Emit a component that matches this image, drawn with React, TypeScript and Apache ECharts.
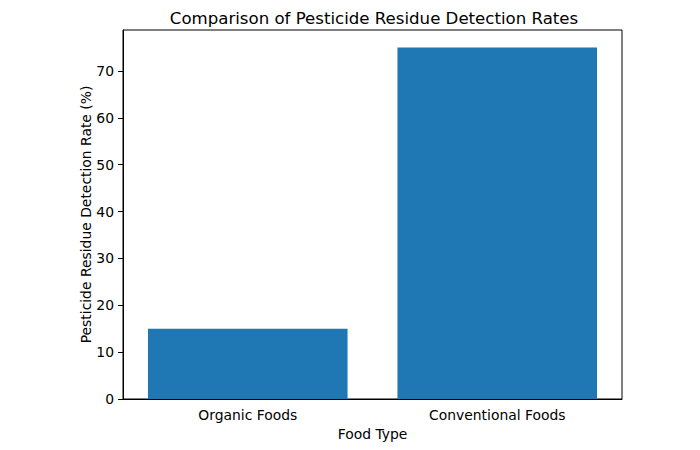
import React, { useEffect, useRef } from "react";
import * as echarts from "echarts";

const categories = ["Organic Foods", "Conventional Foods"];
const detectionRates = [15, 75];
const yMax = 78.75;

const FONT = "DejaVu Sans";

const App: React.FC = () => {
  const chartRef = useRef<HTMLDivElement>(null);

  useEffect(() => {
    if (!chartRef.current) return;
    const chart = echarts.init(chartRef.current, undefined, { renderer: "svg" });

    const option = {
      animation: false,
      backgroundColor: "#ffffff",
      textStyle: { fontFamily: FONT },
      title: {
        text: "Comparison of Pesticide Residue Detection Rates",
        left: 369,
        top: 5,
        textAlign: "center",
        textStyle: { fontFamily: FONT, fontSize: 16.6, fontWeight: "normal", color: "#000" },
      },
      grid: {
        left: 123,
        right: 78,
        top: 30,
        bottom: 51,
        show: true,
        borderColor: "#000",
        borderWidth: 1,
        backgroundColor: "transparent",
      },
      xAxis: {
        type: "category",
        data: categories,
        name: "Food Type",
        nameLocation: "middle",
        nameGap: 28,
        nameMoveOverlap: false,
        nameTextStyle: { fontFamily: FONT, fontSize: 13.9, color: "#000" },
        axisLine: { lineStyle: { color: "#000", width: 1 } },
        axisTick: { alignWithLabel: true, length: 5, lineStyle: { color: "#000" } },
        axisLabel: { fontFamily: FONT, fontSize: 13.9, color: "#000", margin: 9 },
      },
      yAxis: {
        type: "value",
        min: 0,
        max: yMax,
        interval: 10,
        name: "Pesticide Residue Detection Rate (%)",
        nameLocation: "middle",
        nameGap: 30,
        nameMoveOverlap: false,
        nameTextStyle: { fontFamily: FONT, fontSize: 13.9, color: "#000" },
        axisLine: { show: true, lineStyle: { color: "#000", width: 1 } },
        axisTick: { show: true, length: 5, lineStyle: { color: "#000" } },
        axisLabel: { fontFamily: FONT, fontSize: 13.9, color: "#000", margin: 9, showMaxLabel: false },
        splitLine: { show: false },
      },
      series: [
        {
          type: "bar",
          data: detectionRates,
          barWidth: "80%",
          itemStyle: { color: "#1f77b4" },
        },
      ],
    };

    chart.setOption(option);
    return () => {
      chart.dispose();
    };
  }, []);

  return <div ref={chartRef} style={{ width: 700, height: 450, margin: -8 }} />;
};

export default App;
